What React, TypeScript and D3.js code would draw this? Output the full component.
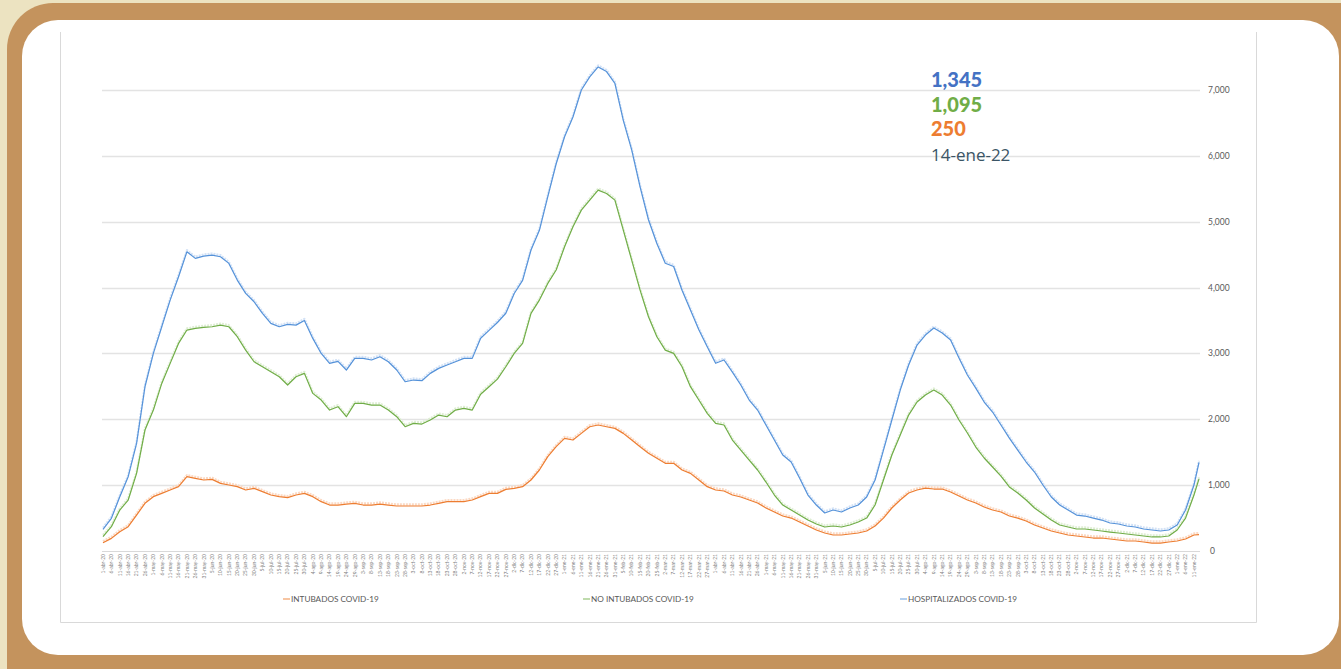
import * as d3 from 'd3';

// Serie diaria, un valor cada 5 días desde el 1-abr-20, más el último día (14-ene-22)
const START_DATE = new Date(2020, 3, 1);
const LAST_DAY = 653;
const STEP = 5;
const MESES = ['ene', 'feb', 'mar', 'abr', 'may', 'jun', 'jul', 'ago', 'sep', 'oct', 'nov', 'dic'];

const HOSPITALIZADOS = [
  330, 496, 825, 1128, 1634, 2494, 3000, 3405, 3810, 4164, 4544, 4443, 4478, 4493, 4468, 4367,
  4114, 3911, 3785, 3608, 3456, 3405, 3440, 3430, 3500, 3228, 3000, 2849, 2880, 2748, 2925, 2925,
  2900, 2950, 2874, 2748, 2570, 2596, 2586, 2697, 2773, 2824, 2874, 2925, 2925, 3230, 3350, 3470,
  3610, 3910, 4110, 4570, 4870, 5380, 5880, 6290, 6590, 7000, 7200, 7350, 7280, 7100, 6540, 6090,
  5530, 5030, 4670, 4370, 4320, 3960, 3660, 3360, 3100, 2850,
  2900, 2717, 2520, 2292, 2140, 1913, 1685, 1457, 1351, 1108, 850, 698, 577, 622, 592, 653, 698,
  820, 1078, 1533, 1989, 2444, 2824, 3127, 3279, 3385, 3309, 3203, 2930, 2672, 2474, 2262, 2110,
  1913, 1715, 1533, 1351, 1199, 1002, 820, 698, 622, 546, 531, 500, 470, 425, 410, 380, 364, 334,
  319, 304, 319, 395, 622, 1002,
  1345,
];

const NO_INTUBADOS = [
  218, 369, 622, 774, 1179, 1837, 2140, 2545, 2849, 3152, 3355, 3380, 3395, 3405, 3430, 3405,
  3254, 3051, 2874, 2798, 2722, 2646, 2520, 2646, 2697, 2393, 2292, 2140, 2191, 2039, 2241, 2241,
  2216, 2216, 2140, 2039, 1887, 1938, 1928, 1989, 2064, 2039, 2140, 2166, 2140, 2380, 2495, 2610,
  2798, 3000, 3152, 3608, 3810, 4063, 4266, 4620, 4923, 5176, 5328, 5480, 5429, 5328, 4873, 4417,
  3962, 3557, 3254, 3051, 3000, 2798, 2495, 2292, 2090, 1938,
  1913, 1685, 1533, 1381, 1230, 1047, 850, 698, 622, 546, 470, 410, 364, 380, 364, 395, 440, 500,
  698, 1078, 1457, 1761, 2064, 2262, 2368, 2444, 2368, 2216, 1989, 1791, 1579, 1412, 1275, 1138,
  972, 880, 774, 653, 562, 470, 395, 364, 334, 334, 319, 304, 288, 273, 258, 243, 228, 213, 213,
  228, 319, 500, 850,
  1095,
];

const INTUBADOS = [
  126, 192, 293, 369, 546, 724, 825, 875, 926, 977, 1128, 1103, 1078, 1088, 1027, 1002,
  977, 926, 951, 901, 850, 825, 810, 850, 875, 825, 749, 698, 698, 713, 724, 698,
  698, 713, 698, 683, 683, 683, 683, 698, 724, 749, 749, 749, 774, 825, 875, 875,
  936, 951, 977, 1078, 1230, 1432, 1584, 1710, 1685, 1786, 1887, 1913, 1887, 1862, 1786, 1685,
  1584, 1483, 1407, 1331, 1331, 1230, 1179, 1078, 977, 926,
  911, 850, 820, 774, 729, 653, 592, 531, 500, 440, 380, 319, 273, 243, 243, 258, 273, 304,
  380, 500, 653, 774, 880, 926, 956, 941, 941, 896, 835, 774, 729, 668, 622, 592, 531, 500,
  455, 395, 349, 304, 273, 243, 228, 213, 197, 197, 182, 167, 152, 152, 137, 121, 121, 137,
  152, 182, 243,
  250,
];

const Y_TICKS = [0, 1000, 2000, 3000, 4000, 5000, 6000, 7000];

const SERIES = [
  { name: 'INTUBADOS COVID-19', values: INTUBADOS, color: '#ed7d31', halo: '#fbd9c3', legendX: 283 },
  { name: 'NO INTUBADOS COVID-19', values: NO_INTUBADOS, color: '#70ad47', halo: '#dfeed5', legendX: 583 },
  { name: 'HOSPITALIZADOS COVID-19', values: HOSPITALIZADOS, color: '#5592d9', halo: '#d3e2f6', legendX: 900 },
];

const DAYS = d3.range(0, LAST_DAY - 2, STEP).concat(LAST_DAY);
const LABEL_DAYS = d3.range(0, LAST_DAY - 2, STEP);

function fmtFecha(day: number) {
  const d = d3.timeDay.offset(START_DATE, day);
  return `${d.getDate()}-${MESES[d.getMonth()]}-${String(d.getFullYear()).slice(2)}`;
}

export default function App() {
  const W = 1341;
  const H = 669;
  const x = d3.scaleLinear().domain([0, LAST_DAY]).range([103, 1199]);
  const y = d3.scaleLinear().domain([0, 7000]).range([551, 90]);
  const fmt = d3.format(',');

  const lineFor = (values: number[]) =>
    d3
      .line<number>()
      .x((_, i) => x(DAYS[i]))
      .y((v) => y(v))(values) ?? '';

  const font = 'Lato, "Open Sans", sans-serif';
  const last = HOSPITALIZADOS.length - 1;

  return (
    <svg
      width={W}
      height={H}
      style={{ position: 'absolute', left: 0, top: 0, display: 'block' }}
    >
      <rect x={0} y={0} width={W} height={H} fill="#ece3c1" />
      <rect x={7} y={3} width={1380} height={710} rx={46} fill="#c4935d" />
      <rect x={22} y={20} width={1317} height={635} rx={36} fill="#ffffff" />

      {/* marco del gráfico */}
      <path d="M60.5,32 V622.5 H1256.5 V32" fill="none" stroke="#d9d9d9" strokeWidth={1} />

      {/* rejilla */}
      {Y_TICKS.filter((t) => t > 0).map((t) => (
        <line key={t} x1={102} x2={1200} y1={Math.round(y(t)) + 0.5} y2={Math.round(y(t)) + 0.5} stroke="#e3e3e3" strokeWidth={1.3} />
      ))}
      <line x1={102} x2={1200} y1={551.5} y2={551.5} stroke="#d9d9d9" strokeWidth={1} />

      {/* eje Y a la derecha */}
      {Y_TICKS.map((t) => (
        <text key={t} x={t === 0 ? 1210 : 1208} y={y(t) + 3} fontSize={8.5} fill="#595959" fontFamily={font}>
          {fmt(t)}
        </text>
      ))}

      {/* etiquetas del eje X */}
      {LABEL_DAYS.map((d) => (
        <text
          key={d}
          transform={`translate(${x(d) + 1.8},554) rotate(-90)`}
          textAnchor="end"
          fontSize={5}
          fill="#7f7f7f"
          fontFamily={font}
        >
          {fmtFecha(d)}
        </text>
      ))}

      {/* series: copia tenue desplazada y línea principal */}
      {SERIES.map((s) => (
        <g key={s.name}>
          <path
            d={lineFor(s.values)}
            fill="none"
            stroke={s.halo}
            strokeWidth={2.2}
            strokeDasharray="2 1"
            transform="translate(0,-1.6)"
            strokeLinejoin="round"
          />
          <path d={lineFor(s.values)} fill="none" stroke={s.color} strokeWidth={1.2} strokeLinejoin="round" />
        </g>
      ))}

      {/* leyenda */}
      {SERIES.map((s) => (
        <g key={s.name} transform={`translate(${s.legendX},599)`}>
          <line x1={0} x2={7} y1={0} y2={0} stroke={s.color} strokeOpacity={0.6} strokeWidth={1.5} />
          <text x={8} y={3} fontSize={8.2} fill="#595959" fontFamily={font}>
            {s.name}
          </text>
        </g>
      ))}

      {/* valores del último día */}
      <text x={931} y={87} fontSize={20} fontWeight={900} fill="#4472c4" fontFamily={font}>
        {fmt(HOSPITALIZADOS[last])}
      </text>
      <text x={931} y={111.5} fontSize={20} fontWeight={900} fill="#70ad47" fontFamily={font}>
        {fmt(NO_INTUBADOS[last])}
      </text>
      <text x={931} y={136} fontSize={20} fontWeight={900} fill="#ed7d31" fontFamily={font}>
        {fmt(INTUBADOS[last])}
      </text>
      <text x={931} y={161} fontSize={17} fill="#3b5566" fontFamily='"Open Sans", sans-serif'>
        {fmtFecha(LAST_DAY)}
      </text>
    </svg>
  );
}
